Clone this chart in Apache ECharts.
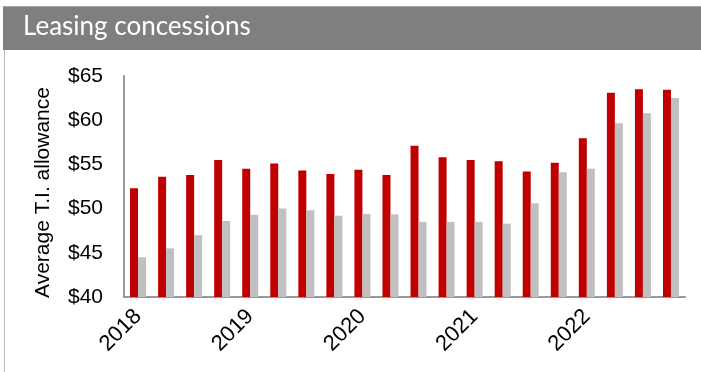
<!DOCTYPE html>
<html>
<head>
<meta charset="utf-8">
<style>
  html, body { margin: 0; padding: 0; background: #ffffff; }
  #chart { width: 701px; height: 372px; }
</style>
<script src="https://cdn.jsdelivr.net/npm/echarts@6/dist/echarts.min.js"></script>
</head>
<body>
<div id="chart"></div>
<script>
// Quarterly periods, 2018 Q1 through 2022 Q4
const quarters = [
  '2018 Q1', '2018 Q2', '2018 Q3', '2018 Q4',
  '2019 Q1', '2019 Q2', '2019 Q3', '2019 Q4',
  '2020 Q1', '2020 Q2', '2020 Q3', '2020 Q4',
  '2021 Q1', '2021 Q2', '2021 Q3', '2021 Q4',
  '2022 Q1', '2022 Q2', '2022 Q3', '2022 Q4'
];

// Average tenant-improvement allowance, $ per sq ft
const seriesRed = [
  52.3, 53.6, 53.8, 55.5, 54.5, 55.1, 54.3, 53.9, 54.4, 53.8,
  57.1, 55.8, 55.5, 55.35, 54.2, 55.2, 57.95, 63.1, 63.5, 63.45
];
const seriesGray = [
  44.5, 45.5, 47.0, 48.6, 49.3, 50.0, 49.8, 49.2, 49.4, 49.35,
  48.5, 48.5, 48.5, 48.3, 50.6, 54.1, 54.5, 59.65, 60.8, 62.5
];

const yTicks = { min: 40, max: 65, step: 5 };
const titleText = 'Leasing concessions';
const yAxisTitle = 'Average T.I. allowance';

const chart = echarts.init(document.getElementById('chart'), null, { renderer: 'canvas' });

chart.setOption({
  animation: false,
  backgroundColor: '#ffffff',
  graphic: [
    // panel border on the left
    { type: 'line', shape: { x1: 4.5, y1: 6, x2: 4.5, y2: 372 }, style: { stroke: '#bdbdbd', lineWidth: 1 } },
    // header band
    { type: 'rect', shape: { x: 3, y: 6, width: 698, height: 44 }, style: { fill: '#7f7f7f' } },
    { type: 'line', shape: { x1: 3, y1: 6.5, x2: 701, y2: 6.5 }, style: { stroke: '#a6a6a6', lineWidth: 1 } },
    {
      type: 'text', left: 23, top: 14,
      style: { text: titleText, fill: '#ffffff', font: '400 26px Lato, "Open Sans", sans-serif' }
    }
  ],
  grid: { left: 124, right: 16, top: 76, bottom: 75, containLabel: false },
  xAxis: {
    type: 'category',
    data: quarters,
    axisLine: { show: true, lineStyle: { color: '#999999', width: 2 } },
    axisTick: { show: false },
    axisLabel: {
      interval: 3,
      rotate: 45,
      margin: 16,
      color: '#000000',
      fontFamily: 'Arial, "Liberation Sans", sans-serif',
      fontSize: 22,
      formatter: v => v.slice(0, 4)
    },
    splitLine: { show: false }
  },
  yAxis: {
    type: 'value',
    min: yTicks.min,
    max: yTicks.max,
    interval: yTicks.step,
    name: yAxisTitle,
    nameLocation: 'middle',
    nameGap: 70,
    nameRotate: 90,
    nameTextStyle: {
      color: '#000000',
      fontFamily: 'Arial, "Liberation Sans", sans-serif',
      fontSize: 21,
      padding: [0, 12, 0, 0]
    },
    axisLine: { show: true, lineStyle: { color: '#999999', width: 2 } },
    axisTick: { show: false },
    splitLine: { show: false },
    axisLabel: {
      margin: 21,
      color: '#000000',
      fontFamily: 'Arial, "Liberation Sans", sans-serif',
      fontSize: 21,
      formatter: v => '$' + v
    }
  },
  series: [
    {
      type: 'bar',
      data: seriesRed,
      barWidth: 8,
      barGap: '0%',
      itemStyle: { color: '#c00000' }
    },
    {
      type: 'bar',
      data: seriesGray,
      barWidth: 8,
      itemStyle: { color: '#c0c0c0' }
    }
  ]
});
</script>
</body>
</html>
